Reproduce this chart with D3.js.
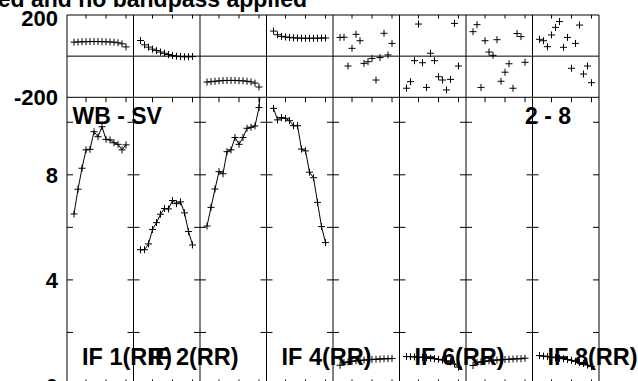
<!DOCTYPE html>
<html><head><meta charset="utf-8">
<script src="https://cdn.jsdelivr.net/npm/d3@7"></script>
<style>html,body{margin:0;padding:0;background:#fff;overflow:hidden}
text{font-family:"Liberation Sans",Arial,Helvetica,sans-serif;font-weight:bold;fill:#000}</style>
</head><body>
<svg id="c" width="638" height="381"></svg>
<script>
// ---- data ----
const channels = [2,3,4,5,6,7,8,9,10,11,12,13,14,15,16];
const ifLabels = ["IF 1(RR)","IF 2(RR)","","IF 4(RR)","","IF 6(RR)","","IF 8(RR)"];
const titleText = "calibrated and no bandpass applied";
const baselineLeft = "WB - SV";
const baselineRight = "2 - 8";
const ampTicks = [0,2,4,6,8,10];
const ampTickLabels = ["0","4","8"];
const phaseTickLabels = ["200","-200"];
const chanTicks = [5,10,15];

const amp1 = [6.51,7.45,8.25,8.95,8.97,9.64,9.45,9.83,9.35,9.33,9.22,9.16,8.95,9.14,null];
const amp2 = [5.15,5.15,5.37,5.92,6.18,6.50,6.72,6.70,7.02,6.90,6.97,6.55,5.84,5.33,null];
const amp3 = [6.05,6.76,7.46,8.12,8.04,8.88,8.95,9.42,9.16,9.42,9.77,9.81,9.86,10.56,12.5];
const amp4 = [10.53,10.09,10.18,10.15,10.06,9.87,9.87,8.98,8.91,8.10,7.89,6.95,6.03,5.42,null];
const amp5 = [0.75,0.85,0.88,0.90,0.92,0.93,0.95,0.96,0.97,0.98,0.99,1.00,1.00,1.01,null];
const amp6 = [1.08,1.08,1.07,1.06,1.05,1.04,1.02,1.00,0.98,0.95,0.92,0.88,0.80,0.68,null];
const amp7 = [0.74,0.85,0.88,0.90,0.92,0.94,0.95,0.96,0.97,0.98,0.99,1.00,1.00,1.02,null];
const amp8 = [1.12,1.10,1.08,1.06,1.04,1.02,1.00,0.97,0.94,0.90,0.86,0.82,0.76,0.70,null];

const phs1 = [68,69,70,70,71,71,71,70,70,69,68,65,60,45,null];
const phs2 = [76,55,44,34,27,20,14,8,3,0,-2,-3,-3,-2,null];
const phs3 = [-126,-124,-122,-120,-119,-118,-118,-118,-119,-120,-122,-125,-131,-150,null];
const phs4 = [122,104,96,93,91,89,88,87,87,87,87,87,88,88,null];
const phs5 = [91,92,-48,38,106,75,-35,-27,-11,-116,-7,111,6,62,null];
const phs6 = [-156,-124,-22,156,-32,-152,14,-22,-100,-116,-164,-113,159,-48,null];
const phs7 = [119,153,-152,75,20,4,80,-122,-78,-37,-156,110,95,-30,null];
const phs8 = [82,75,46,103,140,168,43,91,-59,62,151,-87,-48,-129,null];

const amps = [amp1,amp2,amp3,amp4,amp5,amp6,amp7,amp8];
const phases = [phs1,phs2,phs3,phs4,phs5,phs6,phs7,phs8];

// ---- layout ----
const svg = d3.select("#c");
const nP = 8;
const panelX = d3.scaleLinear().domain([0, nP]).range([67, 599]);
const pw = panelX(1) - panelX(0);
const x = d3.scaleLinear().domain([0.25, 16.875]).range([0, pw]);
const yAmp = d3.scaleLinear().domain([0, 10.95]).range([385, 97.3]);
const yPh = d3.scaleLinear().domain([-200, 200]).range([97.3, 15]);
const yTop = yPh(200), yMid = yPh(0), ySep = yPh(-200), yBot = yAmp(0);

svg.append("rect").attr("width",638).attr("height",381).attr("fill","#fff");
const defs = svg.append("defs");

const frame = svg.append("g").attr("stroke","#000").attr("stroke-width",1).attr("fill","none");
d3.range(nP+1).forEach(i => {
  frame.append("line").attr("x1",panelX(i)).attr("x2",panelX(i)).attr("y1",yTop).attr("y2",yBot);
});
[yTop, yMid, ySep, yBot].forEach(yy => {
  frame.append("line").attr("x1",panelX(0)).attr("x2",panelX(nP)).attr("y1",yy).attr("y2",yy);
});
d3.range(nP).forEach(i => {
  chanTicks.forEach(c => {
    const xx = panelX(i) + x(c);
    frame.append("line").attr("x1",xx).attr("x2",xx).attr("y1",yTop).attr("y2",yTop+3.5);
    frame.append("line").attr("x1",xx).attr("x2",xx).attr("y1",ySep).attr("y2",ySep+5);
    frame.append("line").attr("x1",xx).attr("x2",xx).attr("y1",yBot).attr("y2",yBot-5.5);
  });
});
d3.range(nP+1).forEach(i => {
  ampTicks.forEach(v => {
    const xx = panelX(i);
    const x1 = i === 0 ? xx : xx - 6;
    const x2 = i === nP ? xx : xx + 6;
    frame.append("line").attr("x1",x1).attr("x2",x2).attr("y1",yAmp(v)).attr("y2",yAmp(v));
  });
});

// ---- data marks ----
const cross = "M-3.5,0H3.5M0,-3.5V3.5";
const dataG = svg.append("g");
amps.forEach((arr, i) => {
  defs.append("clipPath").attr("id",`clipP${i}`).append("rect")
    .attr("x",0).attr("y",ySep).attr("width",pw).attr("height",yBot-ySep);
  const g = dataG.append("g").attr("transform",`translate(${panelX(i)},0)`);
  const pts = channels.map((c, k) => ({c, v: arr[k]}));
  const line = d3.line().defined(d => d.v != null).x(d => x(d.c)).y(d => yAmp(d.v));
  const ga = g.append("g").attr("clip-path",`url(#clipP${i})`);
  ga.append("path").datum(pts).attr("d",line).attr("fill","none").attr("stroke","#000").attr("stroke-width",1);
  ga.selectAll("path.m").data(pts.filter(d => d.v != null)).join("path").attr("class","m")
    .attr("d",cross).attr("transform",d => `translate(${x(d.c)},${yAmp(d.v)})`)
    .attr("stroke","#000").attr("stroke-width",1).attr("fill","none");
  const ph = channels.map((c, k) => ({c, v: phases[i][k]})).filter(d => d.v != null);
  g.selectAll("path.p").data(ph).join("path").attr("class","p")
    .attr("d",cross).attr("transform",d => `translate(${x(d.c)},${yPh(d.v)})`)
    .attr("stroke","#000").attr("stroke-width",1).attr("fill","none");
});

// ---- text ----
svg.append("text").attr("x",307).attr("y",7).attr("text-anchor","end")
  .style("font-size","23px").text(titleText);
const phVals = [200,-200];
phaseTickLabels.forEach((t, k) => {
  svg.append("text").attr("x",58).attr("y",Math.max(yPh(phVals[k]) + 8, 26))
    .attr("text-anchor","end").style("font-size","22px").text(t);
});
ampTickLabels.forEach(t => {
  svg.append("text").attr("x",58).attr("y",yAmp(+t) + 8.5)
    .attr("text-anchor","end").style("font-size","22px").text(t);
});
svg.append("text").attr("x",panelX(0)+5.5).attr("y",124.3).style("font-size","23px").text(baselineLeft);
svg.append("text").attr("x",525).attr("y",124.3).style("font-size","23px").text(baselineRight);
ifLabels.forEach((t, i) => {
  if (!t) return;
  svg.append("text").attr("x",panelX(i)+15).attr("y",365).style("font-size","23.5px").text(t);
});
</script>
</body></html>
